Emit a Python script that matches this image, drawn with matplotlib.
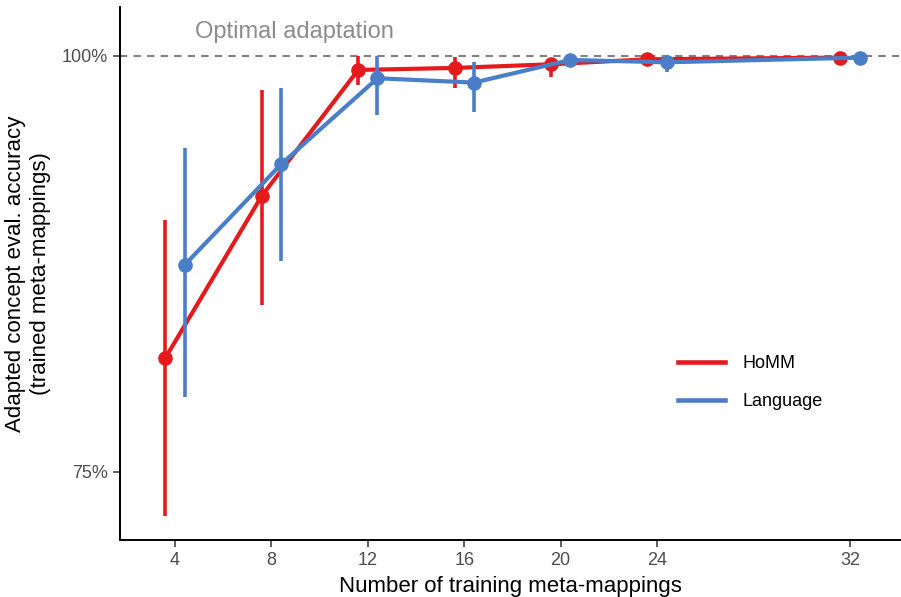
#!/usr/bin/env python3
import matplotlib
matplotlib.use('Agg')
from matplotlib import pyplot as plt

plt.rcParams['font.family'] = ['Liberation Sans', 'DejaVu Sans']

# training meta-mappings
n_train = [4, 8, 12, 16, 20, 24, 32]

# HoMM accuracy (%) with CI bounds
homm_mean = [81.85, 91.59, 99.16, 99.28, 99.50, 99.80, 99.90]
homm_low = [72.36, 85.04, 98.26, 98.08, 98.76, 99.70, 99.85]
homm_high = [90.14, 97.96, 100.0, 99.94, 99.90, 99.90, 99.95]

# Language accuracy (%) with CI bounds
lang_mean = [87.44, 93.49, 98.66, 98.40, 99.76, 99.62, 99.90]
lang_low = [79.52, 87.68, 96.45, 96.62, 99.66, 99.06, 99.85]
lang_high = [94.45, 98.10, 100.0, 99.66, 99.86, 100.0, 99.95]

RED = '#E41A1C'
BLUE = '#4A7EC9'
dodge = 0.4

fig = plt.figure(figsize=(9.01, 5.97), dpi=100)
ax = fig.add_axes([0.1332, 0.0955, 0.8668, 0.8927])

ax.axhline(100, color='#808080', linestyle=(0, (3.5, 3.0)), linewidth=1.5, zorder=1)
ax.text(8.94, 101.44, 'Optimal adaptation', color='#8C8C8C', fontsize=17,
        ha='center', va='center')


def draw(xs, mean, low, high, color, label, z):
    ax.vlines(xs, low, high, color=color, linewidth=2.6, zorder=z)
    ax.plot(xs, mean, color=color, linewidth=3, marker='o', markersize=9.5,
            label=label, zorder=z + 0.5)


draw([x - dodge for x in n_train], homm_mean, homm_low, homm_high, RED, 'HoMM', 2)
draw([x + dodge for x in n_train], lang_mean, lang_low, lang_high, BLUE, 'Language', 3)

ax.set_xlim(1.718, 34.12)
ax.set_ylim(70.91, 102.94)
ax.set_xticks(n_train)
ax.set_xticklabels([str(n) for n in n_train])
ax.set_yticks([75, 100])
ax.set_yticklabels(['75%', '100%'])

for s in ['top', 'right']:
    ax.spines[s].set_visible(False)
for s in ['left', 'bottom']:
    ax.spines[s].set_linewidth(1.4)
ax.tick_params(axis='both', labelsize=13, labelcolor='#4D4D4D', color='#333333',
               length=5, width=1.1)

ax.set_xlabel('Number of training meta-mappings', fontsize=16, labelpad=5)
ax.set_ylabel('Adapted concept eval. accuracy\n(trained meta-mappings)',
              fontsize=16, labelpad=8, linespacing=1.25)

leg = ax.legend(loc='center left', bbox_to_anchor=(0.6935, 0.295), frameon=False,
                fontsize=13, handlelength=2.6, handletextpad=1.0, labelspacing=1.15)
for h in leg.legend_handles:
    h.set_marker('')
    h.set_linewidth(3.3)

fig.savefig('out.png', dpi=100)
